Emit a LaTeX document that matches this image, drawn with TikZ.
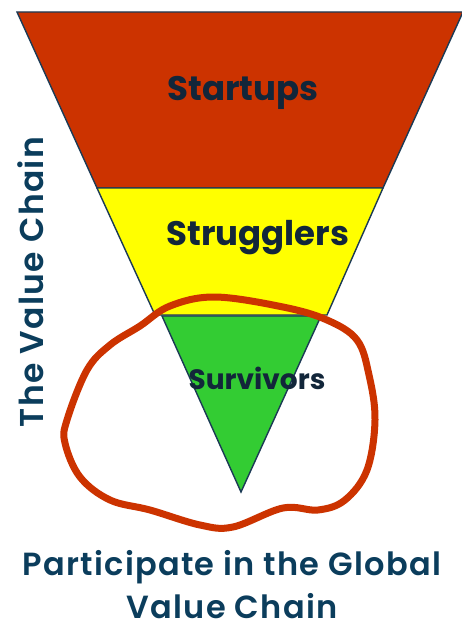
\documentclass[tikz,border=0pt]{standalone}
\usepackage{fontspec}
\setmainfont{Poppins}[UprightFont=* SemiBold, BoldFont=* Bold]
\newfontfamily\captionfont{Poppins}[UprightFont=* SemiBold, LetterSpace=4]
\usetikzlibrary{calc}
\definecolor{funnelred}{HTML}{CC3300}
\definecolor{funnelyellow}{HTML}{FFFF00}
\definecolor{funnelgreen}{HTML}{33CC33}
\definecolor{edge}{HTML}{1B3A55}
\definecolor{labelink}{HTML}{12263A}
\definecolor{captionink}{HTML}{0B3D5C}
\definecolor{loopred}{HTML}{CC3300}
\tikzset{
  tier/.style={draw=edge, line width=1.4pt, line join=miter},
  tierlabel/.style={text=labelink, inner sep=0pt, font=\bfseries},
  caption/.style={text=captionink, inner sep=0pt, align=center},
  ring/.style={draw=loopred, line width=7pt, line cap=round, line join=round}
}
\begin{document}
\begin{tikzpicture}[x=1pt, y=-1pt]
  \useasboundingbox (0,0) rectangle (461,634);
  \fill[white] (0,0) rectangle (461,634);

  % funnel tiers
  \draw[tier, fill=funnelred] (17,12) -- (463,12) -- (383,188) -- (97,188) -- cycle;
  \draw[tier, fill=funnelyellow] (97,188) -- (383,188) -- (327,315) -- (155,315) -- cycle;
  \draw[tier, fill=funnelgreen] (162,316) -- (321,316) -- (241,492) -- cycle;

  \node[tierlabel, font=\bfseries\fontsize{34}{40}\selectfont] (startups) at (243,93) {Startups};
  \node[tierlabel, font=\bfseries\fontsize{34}{40}\selectfont] (strugglers) at (258,238) {Strugglers};
  \node[tierlabel, font=\bfseries\fontsize{28}{32}\selectfont] (survivors) at (257,378) {Survivors};

  % hand-drawn ring around the survivors
  \draw[ring] plot[smooth cycle, tension=0.6] coordinates {
    (215,297) (283,307) (327,320) (357,340) (369,375) (375,420) (367,470)
    (345,500) (318,510) (283,508) (233,527) (200,525) (150,510) (110,500)
    (80,477) (65,443) (67,420) (87,370) (110,345) (140,326) (170,306)};

  % captions
  \node[caption, rotate=90, font=\captionfont\fontsize{33}{40}\selectfont] (axis) at (31,282) {The Value Chain};
  \node[caption, font=\captionfont\fontsize{32}{43}\selectfont] (goal) at (232,585) {Participate in the Global\\ Value Chain};
\end{tikzpicture}
\end{document}
